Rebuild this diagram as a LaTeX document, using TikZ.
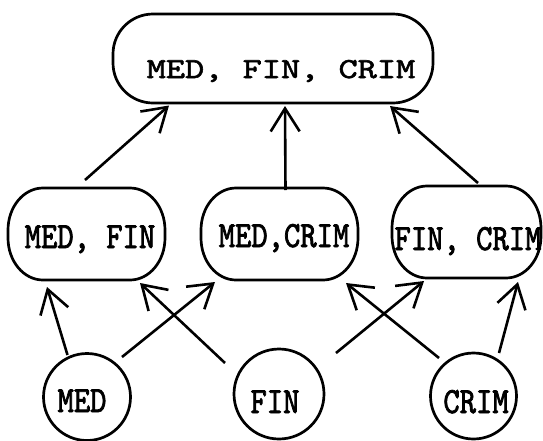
\documentclass[tikz,border=0pt]{standalone}
\usepackage{fontspec}
\usetikzlibrary{arrows.meta}
% typewriter faces: a wide one for the full set, a narrow tall one for the rest
\newfontfamily\typewide{lmmono10-regular}[Extension=.otf,FakeStretch=1.26,FakeBold=2]
\newfontfamily\typenarrow{lmmono10-regular}[Extension=.otf,FakeStretch=0.84,FakeBold=2]
\tikzset{
  slot/.style={rectangle, inner sep=0pt, outer sep=0pt},
  frame/.style={line width=2.7pt},
  single/.style={draw, circle, line width=2.7pt, inner sep=0pt},
  toptext/.style={anchor=base, inner sep=0pt,
    font=\typewide\fontsize{29}{34}\selectfont},
  settext/.style={anchor=base, inner sep=0pt,
    font=\typenarrow\fontsize{37}{42}\selectfont},
  arr/.style={line width=2.6pt,
    -{Straight Barb[length=23pt,width=29pt,line width=2.6pt]}}
}
% outline of a box with elliptical corners: node, x radius, y radius
\newcommand\ovalframe[3]{%
  \draw[frame] ([xshift=#2]#1.north west) -- ([xshift=-#2]#1.north east)
    arc[start angle=90,end angle=0,x radius=#2,y radius=#3]
    -- ([yshift=#3]#1.south east)
    arc[start angle=0,end angle=-90,x radius=#2,y radius=#3]
    -- ([xshift=#2]#1.south west)
    arc[start angle=270,end angle=180,x radius=#2,y radius=#3]
    -- ([yshift=-#3]#1.north west)
    arc[start angle=180,end angle=90,x radius=#2,y radius=#3] -- cycle;}
\begin{document}
\begin{tikzpicture}[x=1pt,y=-1pt]
\useasboundingbox (0,0) rectangle (543,440);

% lattice of subsets
\node[slot, minimum width=320pt, minimum height=89pt] (T) at (273,58.5) {};
\node[slot, minimum width=157pt, minimum height=92pt] (A) at (86.5,234) {};
\node[slot, minimum width=157pt, minimum height=92pt] (B) at (279.5,234) {};
\node[slot, minimum width=149pt, minimum height=92pt] (C) at (466.5,232) {};
\ovalframe{T}{40pt}{40pt}
\ovalframe{A}{35pt}{42pt}
\ovalframe{B}{35pt}{42pt}
\ovalframe{C}{35pt}{42pt}
\node[single, minimum size=87pt] (M) at (87,397) {};
\node[single, minimum size=90pt] (F) at (279,394) {};
\node[single, minimum size=86pt] (R) at (473.5,396) {};

% labels
\node[toptext] (Tl) at ([shift={(8,19.5)}]T.center) {MED, FIN, CRIM};
\node[settext] (Al) at ([shift={(3.5,14)}]A.center) {MED, FIN};
\node[settext] (Bl) at ([shift={(4.5,13)}]B.center) {MED,CRIM};
\node[settext] (Cl) at ([shift={(1.5,18)}]C.center) {FIN, CRIM};
\node[settext] (Ml) at ([shift={(-5,15)}]M.center) {MED};
\node[settext] (Fl) at ([shift={(-4,19)}]F.center) {FIN};
\node[settext] (Rl) at ([shift={(2.5,17)}]R.center) {CRIM};

% pairs into the full set
\draw[arr] ([shift={(-1.5,-54)}]A.center) -- ([shift={(-104,47)}]T.center);
\draw[arr] ([shift={(6,-44)}]B.center) -- ([shift={(12,47.5)}]T.center);
\draw[arr] ([shift={(11.5,-49)}]C.center) -- ([shift={(117,47.5)}]T.center);

% singletons into pairs
\draw[arr] ([shift={(-19.5,-42)}]M.center) -- ([shift={(-39.5,53)}]A.center);
\draw[arr] ([shift={(35,-40)}]M.center) -- ([shift={(-64.5,48)}]B.center);
\draw[arr] ([shift={(-54,-31)}]F.center) -- ([shift={(53.5,49)}]A.center);
\draw[arr] ([shift={(57,-41)}]F.center) -- ([shift={(-42.5,49)}]C.center);
\draw[arr] ([shift={(-34.5,-38)}]R.center) -- ([shift={(66.5,49)}]B.center);
\draw[arr] ([shift={(25.5,-43)}]R.center) -- ([shift={(51.5,50)}]C.center);
\end{tikzpicture}
\end{document}
